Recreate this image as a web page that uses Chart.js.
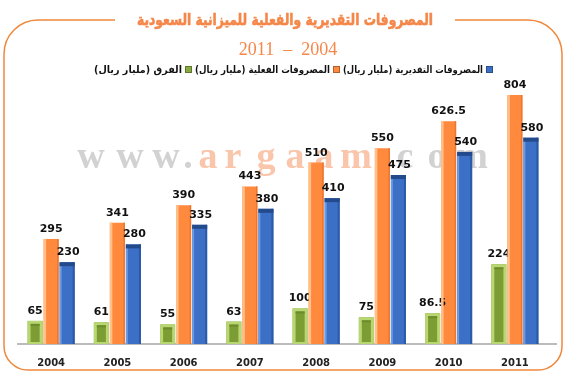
<!DOCTYPE html>
<html>
<head>
<meta charset="utf-8">
<script src="https://cdn.jsdelivr.net/npm/chart.js@4.4.1/dist/chart.umd.min.js"></script>
<style>
  html, body { margin: 0; padding: 0; background: #fff; }
</style>
</head>
<body>
<canvas id="budgetChart" width="566" height="376"></canvas>
<script>
// Data
const years = ['2004', '2005', '2006', '2007', '2008', '2009', '2010', '2011'];
const diffValues = [65, 61, 55, 63, 100, 75, 86.5, 224];           // الفرق
const actualValues = [295, 341, 390, 443, 510, 550, 626.5, 804];   // المصروفات الفعلية
const estimatedValues = [230, 280, 335, 380, 410, 475, 540, 580];  // المصروفات التقديرية
const seriesLabels = ['الفرق (مليار ريال)', 'المصروفات الفعلية (مليار ريال)', 'المصروفات التقديرية (مليار ريال)'];
const chartTitle = 'المصروفات التقديرية والفعلية للميزانية السعودية';
const chartSubtitle = '2011  –  2004';
const watermarkChars = ['w', 'w', 'w', '.', 'a', 'r', 'g', 'a', 'a', 'm', '.', 'c', 'o', 'm'];

const ORANGE = '#f0883c';
const colors = ['#88aa40', '#ff8a3d', '#3c70c6'];
const legendTextWidths = [88, 135, 140]; // squeeze arabic text to the reference widths

// frame, title, subtitle, legend
const decorPlugin = {
    id: 'decor',
    beforeDraw(chart) {
        const ctx = chart.ctx;
        ctx.save();
        ctx.fillStyle = '#fff';
        ctx.fillRect(0, 0, chart.width, chart.height);

        // title (stroked a little to look bold)
        const tw = 296;
        ctx.font = 'bold 16px "DejaVu Sans"';
        ctx.direction = 'rtl';
        ctx.textAlign = 'center';
        ctx.textBaseline = 'middle';
        ctx.fillStyle = '#f5874a';
        ctx.strokeStyle = '#f5874a';
        ctx.lineWidth = 0.6;
        ctx.fillText(chartTitle, 285, 21, tw);
        ctx.strokeText(chartTitle, 285, 21, tw);

        // rounded frame with gap for the title
        const top = 20, L = 4, R = 562, B = 370, rt = 34, rb = 24;
        ctx.beginPath();
        ctx.moveTo(285 - tw / 2 - 22, top);
        ctx.lineTo(L + rt, top);
        ctx.arcTo(L, top, L, top + rt, rt);
        ctx.lineTo(L, B - rb);
        ctx.arcTo(L, B, L + rb, B, rb);
        ctx.lineTo(R - rb, B);
        ctx.arcTo(R, B, R, B - rb, rb);
        ctx.lineTo(R, top + rt);
        ctx.arcTo(R, top, R - rt, top, rt);
        ctx.lineTo(285 + tw / 2 + 22, top);
        ctx.strokeStyle = ORANGE;
        ctx.lineWidth = 1.5;
        ctx.stroke();

        // subtitle
        ctx.direction = 'ltr';
        ctx.font = '18px "Liberation Serif"';
        ctx.fillStyle = '#f5874a';
        ctx.fillText(chartSubtitle, 288, 50);

        // legend, right to left: estimated, actual, diff
        ctx.direction = 'rtl';
        ctx.font = 'bold 10px "DejaVu Sans"';
        ctx.textAlign = 'right';
        let x = 493;
        for (let i = chart.data.datasets.length - 1; i >= 0; i--) {
            const ds = chart.data.datasets[i];
            ctx.fillStyle = colors[i];
            ctx.fillRect(x - 7, 66, 7, 7);
            ctx.strokeStyle = 'rgba(0,0,0,0.3)';
            ctx.lineWidth = 1;
            ctx.strokeRect(x - 6.5, 66.5, 6, 6);
            x -= 10;
            ctx.fillStyle = '#111';
            ctx.fillText(ds.label, x, 70, legendTextWidths[i]);
            x -= legendTextWidths[i] + 3;
        }
        ctx.restore();
    },
    beforeDatasetsDraw(chart) {
        const ctx = chart.ctx;
        const area = chart.chartArea;
        ctx.save();
        // watermark
        const centers = [91, 130, 166, 188, 208, 233, 266, 295, 324, 356, 384, 405, 437, 472];
        ctx.font = 'bold 38px "Liberation Serif"';
        ctx.textAlign = 'center';
        ctx.textBaseline = 'alphabetic';
        ctx.direction = 'ltr';
        watermarkChars.forEach((ch, i) => {
            ctx.fillStyle = (i >= 4 && i <= 9) ? '#f9c6ab' : '#d2d2d2';
            ctx.fillText(ch, centers[i], 168);
        });
        // axis line
        ctx.strokeStyle = '#a6a6a6';
        ctx.lineWidth = 1.5;
        ctx.beginPath();
        ctx.moveTo(17, area.bottom);
        ctx.lineTo(557, area.bottom);
        ctx.stroke();
        ctx.restore();
    }
};

// bevel look on bars + value labels
const barLookPlugin = {
    id: 'barLook',
    afterDatasetsDraw(chart) {
        const ctx = chart.ctx;
        const area = chart.chartArea;
        ctx.save();
        chart.data.datasets.forEach((ds, di) => {
            const meta = chart.getDatasetMeta(di);
            meta.data.forEach((el, i) => {
                const p = el.getProps(['x', 'y', 'base', 'width'], true);
                const l = p.x - p.width / 2, r = p.x + p.width / 2;
                const t = Math.max(p.y, area.top), b = p.base;
                const w = r - l, h = b - t;
                if (di === 0) {
                    ctx.fillStyle = '#b8d672';
                    ctx.fillRect(l, t, w, h);
                    ctx.fillStyle = '#7c9c34';
                    ctx.fillRect(l + 3, t + 3, w - 6, h - 5);
                    ctx.fillStyle = '#6d8b2c';
                    ctx.fillRect(l + 3, t + 3, w - 6, 2);
                } else if (di === 1) {
                    ctx.fillStyle = '#ffc08a';
                    ctx.fillRect(l, t, 2.5, h);
                    ctx.fillStyle = '#ec7630';
                    ctx.fillRect(r - 1.5, t, 1.5, h);
                } else {
                    ctx.fillStyle = '#6a9be4';
                    ctx.fillRect(l, t, 2, h);
                    ctx.fillStyle = '#2b5aa6';
                    ctx.fillRect(r - 2, t, 2, h);
                    ctx.fillStyle = '#234b8c';
                    ctx.fillRect(l, t, w, 4);
                }
                // value label
                ctx.fillStyle = '#111';
                ctx.font = 'bold 11px "DejaVu Sans"';
                ctx.textAlign = 'center';
                ctx.textBaseline = 'alphabetic';
                ctx.direction = 'ltr';
                ctx.fillText(String(ds.data[i]), p.x + (di === 2 ? 1 : 0), t - 7);
            });
        });
        ctx.restore();
    }
};

const ctx = document.getElementById('budgetChart').getContext('2d');

new Chart(ctx, {
    type: 'bar',
    data: {
        labels: years,
        datasets: [
            { label: seriesLabels[0], data: diffValues, backgroundColor: colors[0] },
            { label: seriesLabels[1], data: actualValues, backgroundColor: colors[1] },
            { label: seriesLabels[2], data: estimatedValues, backgroundColor: colors[2] }
        ]
    },
    options: {
        responsive: false,
        animation: false,
        events: [],
        layout: { padding: { top: 95, left: 18, right: 18, bottom: 0 } },
        datasets: {
            bar: { barPercentage: 0.94, categoryPercentage: 0.725 }
        },
        plugins: {
            legend: { display: false },
            title: { display: false },
            tooltip: { enabled: false }
        },
        scales: {
            x: {
                grid: { display: false, drawTicks: false },
                border: { display: false },
                ticks: {
                    color: '#222',
                    padding: 13,
                    font: { family: 'DejaVu Sans', size: 10, weight: 'bold' }
                },
                afterFit: (scale) => { scale.height = 32; }
            },
            y: {
                display: false,
                min: 0,
                max: 700
            }
        }
    },
    plugins: [decorPlugin, barLookPlugin]
});
</script>
</body>
</html>
